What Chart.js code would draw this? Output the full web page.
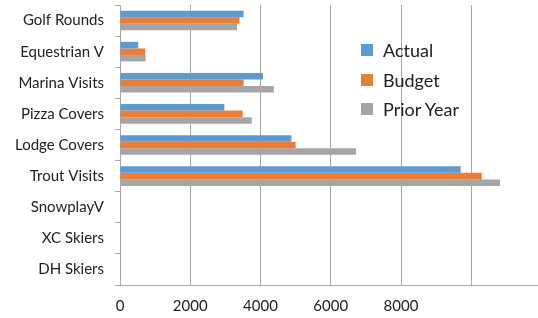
<!DOCTYPE html>
<html>
<head>
<meta charset="utf-8">
<script src="https://cdn.jsdelivr.net/npm/chart.js@4/dist/chart.umd.min.js"></script>
<style>
  html, body { margin: 0; padding: 0; background: #fff; }
  #wrap { position: relative; width: 538px; height: 318px; }
  #legend { position: absolute; left: 361px; top: 35px; font-family: Lato, "Open Sans", sans-serif; font-size: 18px; color: #222; }
  #legend div { height: 29.7px; display: flex; align-items: center; }
  #legend span.box { display: inline-block; width: 12px; height: 12px; margin-right: 10px; }
</style>
</head>
<body>
<div id="wrap">
  <canvas id="chart" width="538" height="318"></canvas>
  <div id="legend"></div>
</div>
<script>
const categories = ['Golf Rounds', 'Equestrian V', 'Marina Visits', 'Pizza Covers', 'Lodge Covers', 'Trout Visits', 'SnowplayV', 'XC Skiers', 'DH Skiers'];
const actual    = [3520, 520, 4070, 2970, 4880, 9700, 0, 0, 0];
const budget    = [3400, 720, 3520, 3490, 5000, 10300, 0, 0, 0];
const priorYear = [3330, 730, 4380, 3750, 6720, 10820, 0, 0, 0];
const xGridValues = [0, 2000, 4000, 6000, 8000, 10000];
const xTickLabels = [0, 2000, 4000, 6000, 8000];

const seriesNames = ['Actual', 'Budget', 'Prior Year'];
const seriesColors = ['#5B9BD5', '#ED7D31', '#A5A5A5'];
const fontFamily = 'Lato, "Open Sans", sans-serif';

const ctx = document.getElementById('chart').getContext('2d');
const chart = new Chart(ctx, {
  type: 'bar',
  data: {
    labels: categories,
    datasets: [actual, budget, priorYear].map((d, i) => ({
      label: seriesNames[i],
      data: d,
      backgroundColor: seriesColors[i],
      borderWidth: 0,
      categoryPercentage: 0.63,
      barPercentage: 1.0
    }))
  },
  options: {
    indexAxis: 'y',
    responsive: false,
    animation: false,
    layout: { padding: { top: 5, right: 0, left: 0, bottom: 0 } },
    scales: {
      x: {
        type: 'linear',
        min: 0,
        max: 11900,
        ticks: {
          color: '#222',
          font: { family: fontFamily, size: 15 },
          padding: 12,
          autoSkip: false,
          maxRotation: 0,
          callback: v => xTickLabels.includes(v) ? String(v) : ''
        },
        // tick manual, 10000 tanpa label
        afterBuildTicks: scale => {
          scale.ticks = xGridValues.map(v => ({ value: v }));
        },
        grid: { drawTicks: false, lineWidth: 1, color: '#a6a6a6' },
        border: { color: '#a6a6a6' },
        afterFit: scale => {
          scale.height = 33;
          scale.paddingLeft = 0;
          scale.paddingRight = 0;
        }
      },
      y: {
        ticks: {
          color: '#222',
          font: { family: fontFamily, size: 15 },
          padding: 11
        },
        grid: { drawOnChartArea: false, offset: true, tickLength: 5, color: '#a6a6a6' },
        border: { color: '#a6a6a6' },
        afterFit: scale => {
          scale.width = 120;
          scale.paddingTop = 0;
          scale.paddingBottom = 0;
        }
      }
    },
    plugins: {
      legend: { display: false },
      tooltip: { enabled: false }
    }
  }
});

// legend di dalam area plot
const legendEl = document.getElementById('legend');
chart.data.datasets.forEach(ds => {
  const row = document.createElement('div');
  row.innerHTML = '<span class="box" style="background:' + ds.backgroundColor + '"></span>' + ds.label;
  legendEl.appendChild(row);
});
</script>
</body>
</html>
